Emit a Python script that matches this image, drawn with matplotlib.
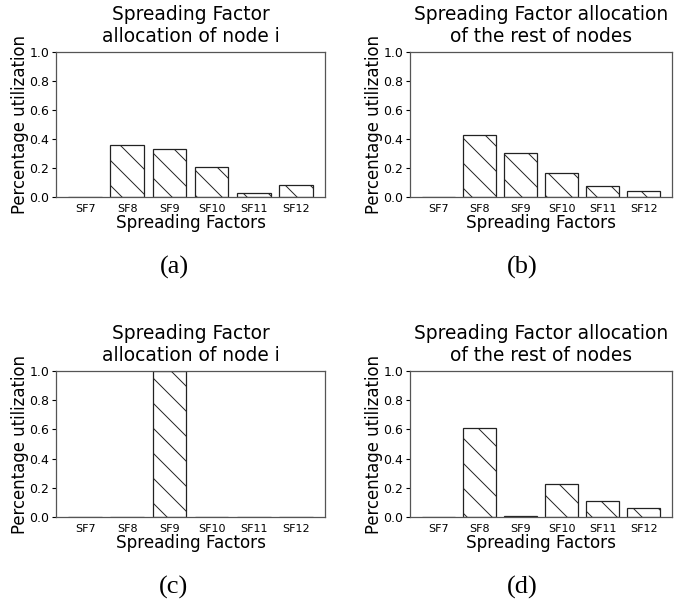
import matplotlib
matplotlib.use("Agg")
import matplotlib.pyplot as plt

# Spreading factors and utilization per panel
sf = ['SF7', 'SF8', 'SF9', 'SF10', 'SF11', 'SF12']
util_a = [0.0, 0.36, 0.33, 0.21, 0.03, 0.08]
util_b = [0.0, 0.43, 0.30, 0.165, 0.075, 0.04]
util_c = [0.0, 0.0, 1.0, 0.0, 0.0, 0.0]
util_d = [0.0, 0.61, 0.005, 0.225, 0.11, 0.06]

titles = ["Spreading Factor\nallocation of node i",
          "Spreading Factor allocation\nof the rest of nodes",
          "Spreading Factor\nallocation of node i",
          "Spreading Factor allocation\nof the rest of nodes"]
captions = ['(a)', '(b)', '(c)', '(d)']
panels = [util_a, util_b, util_c, util_d]

W, H = 688, 601
DPI = 75
k = 100 / DPI  # sizes below were tuned for 100 dpi

plt.rcParams['hatch.linewidth'] = 0.7 * k
fig = plt.figure(figsize=(W / DPI, H / DPI), dpi=DPI)

# axes boxes in pixels: left, right, top, bottom
boxes = [(56, 325, 52, 197), (410, 672, 52, 197),
         (56, 325, 371, 517), (410, 672, 371, 517)]
cap_pos = [(174, 267), (522, 267), (174, 587), (522, 587)]

for vals, title, cap, (l, r, t, b), (cx, cy) in zip(panels, titles, captions, boxes, cap_pos):
    ax = fig.add_axes([l / W, 1 - b / H, (r - l) / W, (b - t) / H])
    ax.bar(sf, vals, width=0.8, color='white', edgecolor='#222222',
           hatch='\\', linewidth=0.9 * k)
    ax.set_ylim(0, 1.0)
    ax.set_yticks([0, 0.2, 0.4, 0.6, 0.8, 1.0])
    ax.set_title(title, fontsize=13.4 * k, pad=7 * k, linespacing=1.25)
    ax.set_xlabel("Spreading Factors", fontsize=12.1 * k, labelpad=0)
    ax.set_ylabel("Percentage utilization", fontsize=11.9 * k, labelpad=0)
    ax.tick_params(axis='y', labelsize=9 * k, length=3 * k, width=0.8 * k, pad=2 * k)
    ax.tick_params(axis='x', labelsize=8 * k, length=0, pad=5 * k)
    for s in ax.spines.values():
        s.set_color('#555555')
        s.set_linewidth(0.9 * k)
    fig.text(cx / W, 1 - cy / H, cap, ha='center', va='center',
             fontsize=19 * k, family='Liberation Serif')

fig.savefig('out.png', dpi=DPI)
